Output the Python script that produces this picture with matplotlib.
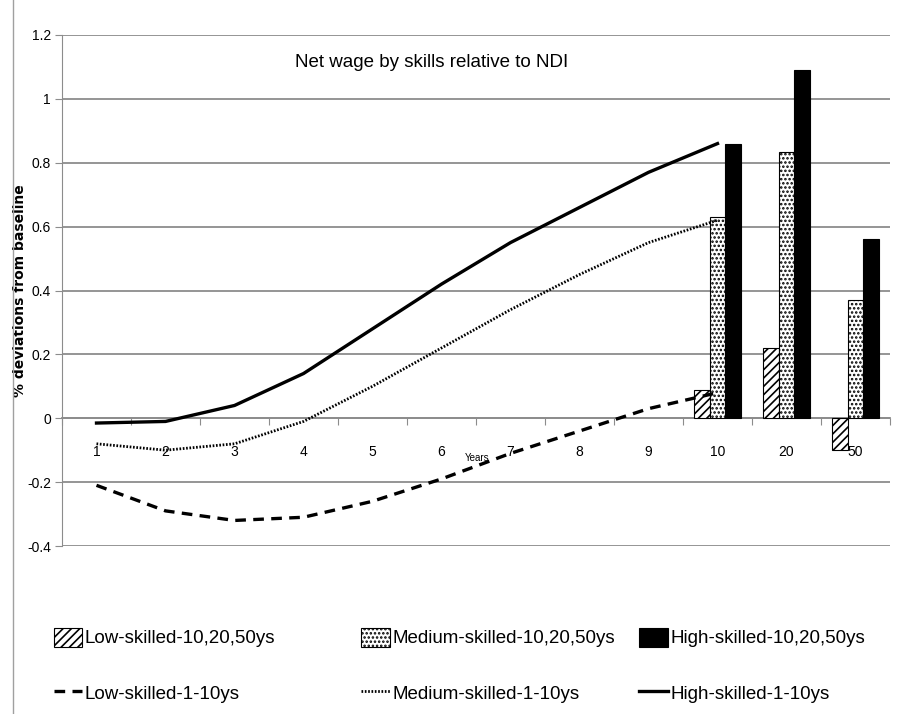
import matplotlib
matplotlib.use('Agg')
import matplotlib.pyplot as plt
from matplotlib.lines import Line2D
import numpy as np

plt.rcParams['font.family'] = ['Liberation Sans', 'DejaVu Sans']
plt.rcParams['hatch.linewidth'] = 1.2

# data
categories = ['1', '2', '3', '4', '5', '6', '7', '8', '9', '10', '20', '50']
line_years = ['1', '2', '3', '4', '5', '6', '7', '8', '9', '10']
bar_years = ['10', '20', '50']

low_line = [-0.21, -0.29, -0.32, -0.31, -0.26, -0.19, -0.11, -0.04, 0.03, 0.08]
medium_line = [-0.08, -0.10, -0.08, -0.01, 0.10, 0.22, 0.34, 0.45, 0.55, 0.62]
high_line = [-0.015, -0.01, 0.04, 0.14, 0.28, 0.42, 0.55, 0.66, 0.77, 0.86]

low_bars = [0.09, 0.22, -0.10]
medium_bars = [0.63, 0.835, 0.37]
high_bars = [0.86, 1.09, 0.56]

fig = plt.figure(figsize=(9.04, 7.14), dpi=100)
ax = fig.add_axes([62 / 904, 1 - 546 / 714, 828 / 904, 511 / 714])

grid_col = '#8c8c8c'
pos = {c: i for i, c in enumerate(categories)}
lx = [pos[c] for c in line_years]
bx = np.array([pos[c] for c in bar_years])
w = 0.225

b1 = ax.bar(bx - w, low_bars, w, color='white', edgecolor='black', hatch='////', lw=0.8, zorder=3)
b2 = ax.bar(bx, medium_bars, w, color='white', edgecolor='black', hatch='....', lw=0.8, zorder=3)
b3 = ax.bar(bx + w, high_bars, w, color='black', edgecolor='black', lw=0.8, zorder=3)

l1, = ax.plot(lx, low_line, color='black', lw=2.4, ls=(0, (3.2, 2.2)), zorder=4)
l2, = ax.plot(lx, medium_line, color='black', lw=2.0, ls=(0, (0.6, 0.6)), zorder=4)
l3, = ax.plot(lx, high_line, color='black', lw=2.4, zorder=4)

ax.set_xlim(-0.5, len(categories) - 0.5)
ax.set_ylim(-0.4, 1.2)
ax.set_yticks(np.arange(-0.4, 1.21, 0.2))
ax.set_yticklabels(['-0.4', '-0.2', '0', '0.2', '0.4', '0.6', '0.8', '1', '1.2'], fontsize=10)
ax.yaxis.grid(True, color=grid_col, lw=1.3, zorder=0)
ax.set_axisbelow(True)

for s in ['top', 'right']:
    ax.spines[s].set_visible(False)
ax.spines['left'].set_color(grid_col)
ax.spines['bottom'].set_position(('data', 0))
ax.spines['bottom'].set_color(grid_col)
ax.spines['bottom'].set_linewidth(1.3)
ax.tick_params(axis='y', length=5, color=grid_col, pad=3)

ax.set_xticks(np.arange(-0.5, len(categories), 1))
ax.set_xticklabels([])
ax.tick_params(axis='x', which='major', length=5, color=grid_col)
ax.set_xticks(np.arange(len(categories)), minor=True)
ax.set_xticklabels(categories, minor=True, fontsize=10)
ax.tick_params(axis='x', which='minor', length=0, pad=19)

ax.set_ylabel('% deviations from baseline', fontsize=10, fontweight='bold',
              family='DejaVu Sans')
ax.yaxis.set_label_coords(-35 / 828, 0.5)
ax.text(5.52, -0.125, 'Years', fontsize=7, ha='center', va='center')
ax.text(0.446, 0.947, 'Net wage by skills relative to NDI', transform=ax.transAxes,
        fontsize=13.5, ha='center', va='center')

fig.add_artist(Line2D([13 / 904, 13 / 904], [0, 1], transform=fig.transFigure,
                      color='#a0a0a0', lw=1))

leg_kw = dict(frameon=False, fontsize=13.5, labelspacing=1.9, handlelength=1.5,
              handletextpad=0.15, handleheight=1.2, loc='upper left', borderaxespad=0)
fig.legend([b1, l1], ['Low-skilled-10,20,50ys', 'Low-skilled-1-10ys'],
           bbox_to_anchor=(46 / 904, 1 - 620 / 714), **leg_kw)
fig.legend([b2, l2], ['Medium-skilled-10,20,50ys', 'Medium-skilled-1-10ys'],
           bbox_to_anchor=(354 / 904, 1 - 620 / 714), **leg_kw)
fig.legend([b3, l3], ['High-skilled-10,20,50ys', 'High-skilled-1-10ys'],
           bbox_to_anchor=(632 / 904, 1 - 620 / 714), **leg_kw)

fig.savefig('out.png', dpi=100)
